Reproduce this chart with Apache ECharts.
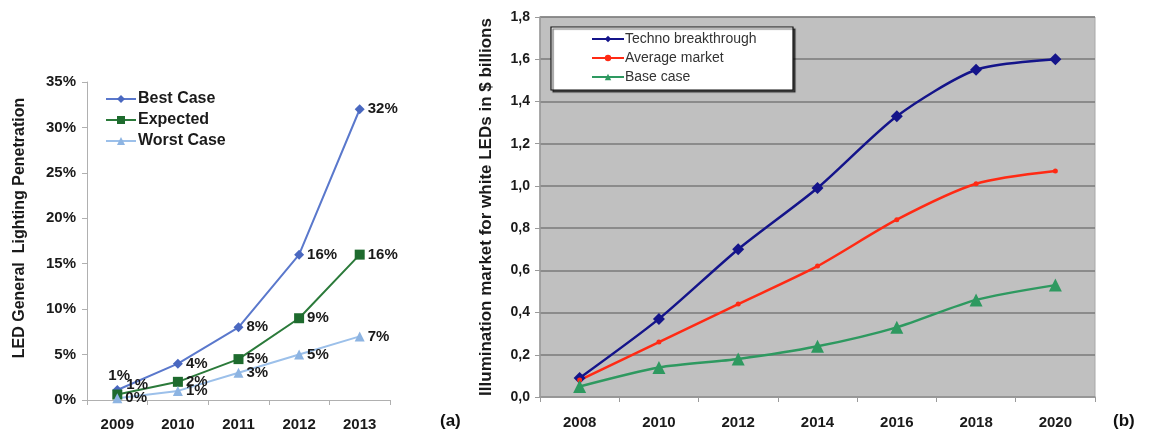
<!DOCTYPE html>
<html><head><meta charset="utf-8">
<script src="https://cdn.jsdelivr.net/npm/echarts@6/dist/echarts.min.js"></script>
<style>html,body{margin:0;padding:0;background:#fff}#c{width:1150px;height:435px}</style>
</head><body><div id="c"></div>
<script>
// ---- Chart (a) data ----
const yearsA = ['2009','2010','2011','2012','2013'];
const bestCase = [1.1, 4, 8, 16, 32];
const expected = [0.6, 2, 4.5, 9, 16];
const worstCase = [0.2, 1, 3, 5, 7];
// ---- Chart (b) data ----
const yearsB = ['2008','2010','2012','2014','2016','2018','2020'];
const techno = [0.09, 0.37, 0.70, 0.99, 1.33, 1.55, 1.60];
const average = [0.08, 0.26, 0.44, 0.62, 0.84, 1.01, 1.07];
const baseCase = [0.05, 0.14, 0.18, 0.24, 0.33, 0.46, 0.53];

const F = '"Liberation Sans", Arial, sans-serif';
const pct = p => Math.round(p.value) + '%';

function labelled(values, special) {
  return values.map((v, i) => special && special[i] ? { value: v, label: special[i] } : v);
}
const lbl = { show: true, position: 'right', formatter: pct, color: '#1a1a1a', fontWeight: 'bold', fontSize: 15, fontFamily: F, distance: 3 };

const chart = echarts.init(document.getElementById('c'), null, { renderer: 'canvas' });
chart.setOption({
  animation: false,
  textStyle: { fontFamily: F },
  grid: [
    { left: 87, top: 82, width: 303, height: 318 },
    { left: 540, top: 17, width: 555, height: 380, show: true, backgroundColor: '#c0c0c0', borderColor: '#a8a8a8', borderWidth: 1 }
  ],
  xAxis: [
    { gridIndex: 0, type: 'category', data: yearsA, boundaryGap: true,
      axisLine: { lineStyle: { color: '#b0b0b0', width: 1 } },
      axisTick: { show: true, inside: false, length: 5, lineStyle: { color: '#b0b0b0' } },
      axisLabel: { color: '#1a1a1a', fontWeight: 'bold', fontSize: 15, fontFamily: F, margin: 17 } },
    { gridIndex: 1, type: 'category', data: yearsB, boundaryGap: true,
      axisLine: { lineStyle: { color: '#9a9a9a', width: 1.5 } },
      axisTick: { show: true, inside: false, length: 5, lineStyle: { color: '#9a9a9a' } },
      axisLabel: { color: '#1a1a1a', fontWeight: 'bold', fontSize: 15, fontFamily: F, margin: 18 } }
  ],
  yAxis: [
    { gridIndex: 0, type: 'value', min: 0, max: 35, interval: 5,
      axisLine: { show: true, lineStyle: { color: '#b0b0b0' } },
      axisTick: { show: true, length: 5, lineStyle: { color: '#b0b0b0' } },
      splitLine: { show: false },
      axisLabel: { formatter: '{value}%', color: '#1a1a1a', fontWeight: 'bold', fontSize: 15, fontFamily: F, margin: 11 } },
    { gridIndex: 1, type: 'value', min: 0, max: 1.8, interval: 0.2,
      name: 'Illumination market for white LEDs in $ billions', nameLocation: 'middle', nameGap: 45, nameRotate: 90,
      nameTextStyle: { color: '#1a1a1a', fontWeight: 'bold', fontSize: 17, fontFamily: F },
      axisLine: { show: true, lineStyle: { color: '#9a9a9a', width: 1.5 } },
      axisTick: { show: true, length: 5, lineStyle: { color: '#9a9a9a' } },
      splitLine: { show: true, lineStyle: { color: '#7a7a7a', width: 1.5 } },
      axisLabel: { formatter: v => v.toFixed(1).replace('.', ','), color: '#1a1a1a', fontWeight: 'bold', fontSize: 14, fontFamily: F, margin: 10 } }
  ],
  legend: [
    { orient: 'vertical', left: 100, top: 86, itemWidth: 30, itemHeight: 10, itemGap: 5,
      data: ['Best Case', 'Expected', 'Worst Case'],
      textStyle: { color: '#1a1a1a', fontWeight: 'bold', fontSize: 16, fontFamily: F, padding: [0, 0, 0, -3] } },
    { orient: 'vertical', left: 586, top: 27, itemWidth: 32, itemHeight: 8, itemGap: 5, z: 6,
      data: ['Techno breakthrough', 'Average market', 'Base case'],
      textStyle: { color: '#333', fontSize: 14, fontFamily: F, padding: [0, 0, 0, -4] } }
  ],
  graphic: [
    { type: 'rect', shape: { x: 551, y: 27, width: 242, height: 63 }, z: 5,
      style: { fill: '#fff', stroke: '#111', lineWidth: 1.2, shadowColor: 'rgba(0,0,0,0.6)', shadowOffsetX: 2, shadowOffsetY: 2, shadowBlur: 1 } },
    { type: 'text', x: 20, y: 228, rotation: Math.PI / 2, z: 5,
      style: { text: 'LED General  Lighting Penetration', font: 'bold 16px ' + F, fill: '#1a1a1a', align: 'center', verticalAlign: 'middle' } },
    { type: 'text', left: 440, top: 413, style: { text: '(a)', font: 'bold 17px ' + F, fill: '#111' } },
    { type: 'text', left: 1113, top: 413, style: { text: '(b)', font: 'bold 17px ' + F, fill: '#111' } }
  ],
  series: [
    { name: 'Best Case', type: 'line', xAxisIndex: 0, yAxisIndex: 0,
      data: labelled(bestCase, { 0: { position: [-4, -17] } }),
      symbol: 'diamond', symbolSize: 10, color: '#4a68c0', lineStyle: { width: 2, color: '#5a78cc' }, label: lbl },
    { name: 'Expected', type: 'line', xAxisIndex: 0, yAxisIndex: 0,
      data: labelled(expected, { 0: { position: [14, -12] } }),
      symbol: 'rect', symbolSize: 10, color: '#1e6b2e', lineStyle: { width: 2, color: '#2b7a3a' }, label: lbl },
    { name: 'Worst Case', type: 'line', xAxisIndex: 0, yAxisIndex: 0,
      data: worstCase, symbol: 'triangle', symbolSize: 10, color: '#8db4e2', lineStyle: { width: 2, color: '#9cc0ea' }, label: lbl },
    { name: 'Techno breakthrough', type: 'line', xAxisIndex: 1, yAxisIndex: 1, smooth: 0.25,
      data: techno, symbol: 'diamond', symbolSize: 12, color: '#14148a', lineStyle: { width: 2.5, color: '#14148a' } },
    { name: 'Average market', type: 'line', xAxisIndex: 1, yAxisIndex: 1, smooth: 0.25,
      data: average, symbol: 'circle', symbolSize: 5, color: '#ff2a14', lineStyle: { width: 2.5, color: '#ff2a14' } },
    { name: 'Base case', type: 'line', xAxisIndex: 1, yAxisIndex: 1, smooth: 0.25,
      data: baseCase, symbol: 'triangle', symbolSize: 13, color: '#2e9960', lineStyle: { width: 2.5, color: '#2e9960' } }
  ]
});
</script></body></html>
